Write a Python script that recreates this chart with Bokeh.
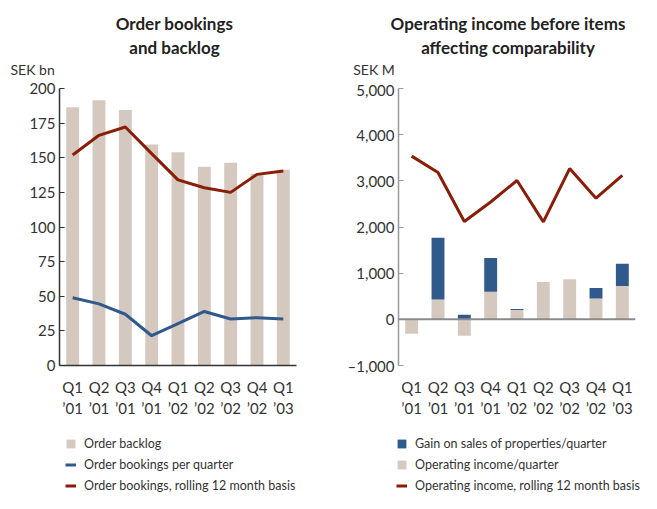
from bokeh.plotting import figure
from bokeh.models import (Legend, LegendItem, Label, Span, FixedTicker, Range1d,
                          ColumnDataSource, NumeralTickFormatter)
from bokeh.layouts import row, column
from bokeh.embed import file_html
from bokeh.resources import INLINE

# ---------------- data ----------------
quarters = ["Q1\n\u201901", "Q2\n\u201901", "Q3\n\u201901", "Q4\n\u201901",
            "Q1\n\u201902", "Q2\n\u201902", "Q3\n\u201902", "Q4\n\u201902",
            "Q1\n\u201903"]

order_backlog = [186.5, 191.5, 184.5, 159.5, 154.0, 143.5, 146.3, 138.2, 141.4]
bookings_quarter = [48.9, 44.5, 37.0, 21.5, 30.3, 39.0, 33.6, 34.5, 33.6]
bookings_rolling = [152.0, 166.2, 172.2, 153.0, 134.0, 128.3, 125.0, 138.0, 140.5]

op_income_quarter = [-312, 431, -354, 598, 202, 806, 869, 452, 723]
gain_properties = [0, 1334, 100, 729, 21, 0, 0, 229, 479]
op_income_rolling = [3535, 3181, 2119, 2542, 3008, 2110, 3265, 2625, 3119]

left_ticks = [0, 25, 50, 75, 100, 125, 150, 175, 200]
right_ticks = [-1000, 0, 1000, 2000, 3000, 4000, 5000]

left_title = ["Order bookings", "and backlog"]
right_title = ["Operating income before items", "affecting comparability"]
left_unit = "SEK bn"
right_unit = "SEK M"
left_legend = ["Order backlog", "Order bookings per quarter",
               "Order bookings, rolling 12 month basis"]
right_legend = ["Gain on sales of properties/quarter", "Operating income/quarter",
                "Operating income, rolling 12 month basis"]

# ---------------- style ----------------
FONT = "Lato"
BEIGE = "#D4C8BF"
BLUE = "#2F5A8B"
RED = "#8B1C06"
TXT = "#333333"
LW, RW = 320, 321          # column widths
HEAD_H, CHART_H, LEG_H = 80, 340, 73

idx = list(range(len(quarters)))


def blank_fig(width, height):
    p = figure(width=width, height=height, output_backend="svg", toolbar_location=None,
               x_range=Range1d(0, width), y_range=Range1d(0, height),
               x_axis_type=None, y_axis_type=None, title=None,
               min_border=0, min_border_left=0, min_border_right=0,
               min_border_top=0, min_border_bottom=0)
    p.outline_line_color = None
    p.grid.visible = False
    p.background_fill_color = "white"
    p.border_fill_color = "white"
    return p


def header(width, lines, center_x, unit, unit_x):
    h = blank_fig(width, HEAD_H)
    for text, y in zip(lines, [HEAD_H - 23, HEAD_H - 47]):
        h.add_layout(Label(x=center_x, y=y, text=text, text_font=FONT,
                           text_font_size="17px", text_font_style="bold",
                           text_color="#222222", text_align="center",
                           text_baseline="middle"))
    h.add_layout(Label(x=unit_x, y=HEAD_H - 69, text=unit, text_font=FONT,
                       text_font_size="14px", text_color=TXT,
                       text_align="left", text_baseline="middle"))
    return h


def chart_fig(width, mb_left, yrange):
    p = figure(width=width, height=CHART_H, output_backend="svg", toolbar_location=None,
               x_range=Range1d(-0.5, 8.5), y_range=yrange, title=None,
               min_border_left=mb_left, min_border_right=width - mb_left - 237,
               min_border_top=8, min_border_bottom=CHART_H - 8 - 288)
    p.outline_line_color = None
    p.xgrid.grid_line_color = None
    p.ygrid.grid_line_color = None
    p.background_fill_color = "white"
    p.border_fill_color = "white"
    p.xaxis.ticker = FixedTicker(ticks=idx)
    p.xaxis.major_label_overrides = {i: q for i, q in zip(idx, quarters)}
    p.xaxis.major_tick_line_color = None
    p.xaxis.minor_tick_line_color = None
    p.xaxis.major_label_standoff = 6
    for ax in (p.xaxis[0], p.yaxis[0]):
        ax.major_label_text_font = FONT
        ax.major_label_text_font_size = "15px"
        ax.major_label_text_color = TXT
    p.yaxis.major_tick_in = 5
    p.yaxis.major_tick_out = 0
    p.yaxis.minor_tick_line_color = None
    p.yaxis.major_label_standoff = 4
    return p


def legend_fig(width, labels, specs, x):
    """specs: (kind, color, source, y-column) -- hidden copies used only as legend keys."""
    lf = blank_fig(width, LEG_H)
    items = []
    for lab, (kind, color, src, col) in zip(labels, specs):
        if kind == "bar":
            r = lf.vbar(x="x", top=col, width=0.49, source=src,
                        fill_color=color, line_color=None, visible=False)
        else:
            r = lf.line(x="x", y=col, source=src, line_color=color, line_width=3,
                        visible=False)
        items.append(LegendItem(label=lab, renderers=[r]))
    lf.add_layout(Legend(items=items, location=(x, 0), orientation="vertical",
                         border_line_color=None, background_fill_alpha=0,
                         inactive_fill_alpha=0,
                         label_text_font=FONT, label_text_font_size="12.5px",
                         label_text_color=TXT, glyph_width=11, glyph_height=11,
                         label_standoff=8, label_height=15, spacing=6,
                         padding=0, margin=0))
    return lf


# ---------------- left chart ----------------
src1 = ColumnDataSource(dict(x=idx, backlog=order_backlog,
                             quarter=bookings_quarter, rolling=bookings_rolling))
p1 = chart_fig(LW, 59, Range1d(0, 200))
p1.yaxis.ticker = FixedTicker(ticks=left_ticks)
p1.yaxis.axis_line_color = "#333333"
p1.yaxis.axis_line_width = 1.5
p1.yaxis.major_tick_line_color = "#333333"
p1.xaxis.axis_line_color = "#333333"
p1.xaxis.axis_line_width = 1.5

p1.vbar(x="x", top="backlog", width=0.49, bottom=0, source=src1,
        fill_color=BEIGE, line_color=None)
p1.line(x="x", y="quarter", source=src1, line_color=BLUE, line_width=3)
p1.line(x="x", y="rolling", source=src1, line_color=RED, line_width=3)

h1 = header(LW, left_title, 174, left_unit, 10)
lg1 = legend_fig(LW, left_legend,
                 [("bar", BEIGE, src1, "backlog"), ("line", BLUE, src1, "quarter"),
                  ("line", RED, src1, "rolling")], 65)

# ---------------- right chart ----------------
inc_bottom = [0] * len(op_income_quarter)
gain_bottom = [max(v, 0) for v in op_income_quarter]
gain_top = [b + g for b, g in zip(gain_bottom, gain_properties)]
src2 = ColumnDataSource(dict(x=idx, inc=op_income_quarter, inc_bottom=inc_bottom,
                             gain_bottom=gain_bottom, gain_top=gain_top,
                             rolling=op_income_rolling))
p2 = chart_fig(RW, 398 - LW, Range1d(-1000, 5000))
p2.yaxis.ticker = FixedTicker(ticks=right_ticks)
p2.yaxis.formatter = NumeralTickFormatter(format="0,0")
p2.yaxis.major_label_overrides = {-1000: "\u20131,000"}
p2.yaxis.axis_line_color = "#999999"
p2.yaxis.axis_line_width = 1.5
p2.yaxis.major_tick_line_color = "#999999"
p2.xaxis.axis_line_color = None

p2.vbar(x="x", top="inc", bottom="inc_bottom", width=0.49, source=src2,
        fill_color=BEIGE, line_color=None)
p2.vbar(x="x", top="gain_top", bottom="gain_bottom", width=0.49, source=src2,
        fill_color=BLUE, line_color=None)
p2.line(x="x", y="rolling", source=src2, line_color=RED, line_width=3)
p2.add_layout(Span(location=0, dimension="width", line_color="#8a8a8a", line_width=2))

h2 = header(RW, right_title, 507.5 - LW, right_unit, 352.7 - LW)
lg2 = legend_fig(RW, right_legend,
                 [("bar", BLUE, src2, "gain_top"), ("bar", BEIGE, src2, "inc"),
                  ("line", RED, src2, "rolling")], 396 - LW)

layout = column(row(h1, h2), row(p1, p2), row(lg1, lg2))
open("out.html", "w").write(file_html(layout, INLINE))
